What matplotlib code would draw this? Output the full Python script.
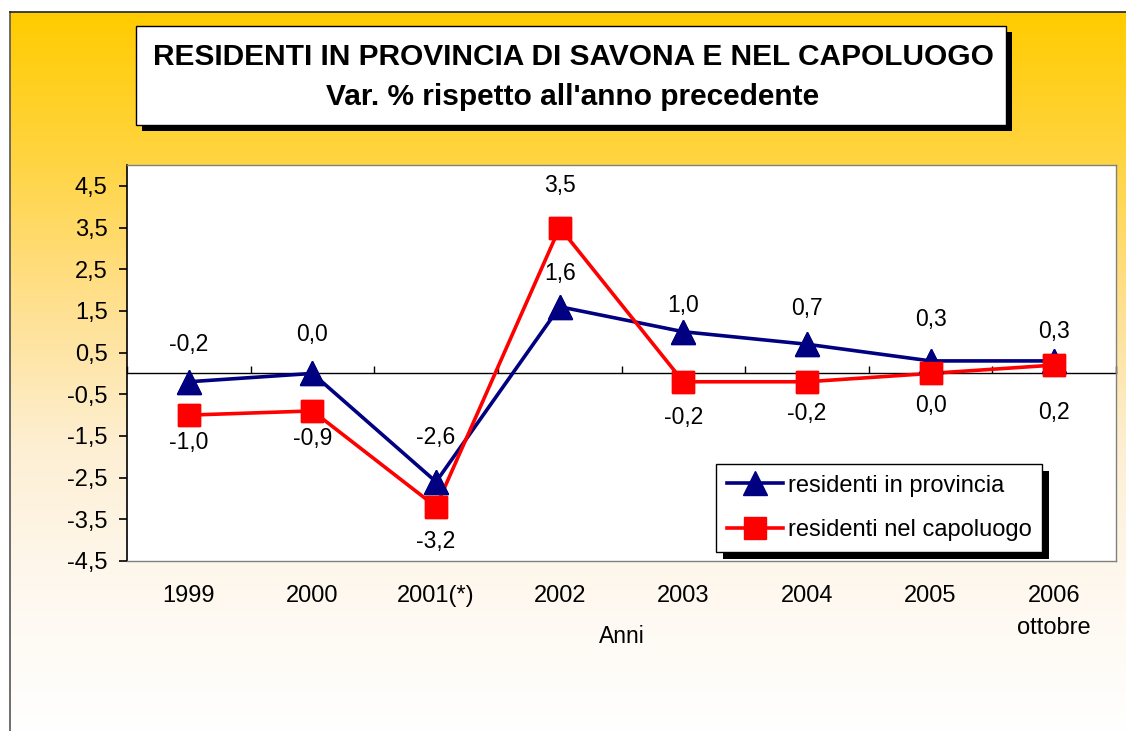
import numpy as np
import matplotlib
matplotlib.use("Agg")
import matplotlib.pyplot as plt
from matplotlib.patches import Rectangle
from matplotlib.colors import LinearSegmentedColormap

plt.rcParams["font.family"] = ["Liberation Sans", "DejaVu Sans"]

anni = ["1999", "2000", "2001(*)", "2002", "2003", "2004", "2005", "2006\nottobre"]
provincia = [-0.2, 0.0, -2.6, 1.6, 1.0, 0.7, 0.3, 0.3]
capoluogo = [-1.0, -0.9, -3.2, 3.5, -0.2, -0.2, 0.0, 0.2]
y_ticks = [-4.5, -3.5, -2.5, -1.5, -0.5, 0.5, 1.5, 2.5, 3.5, 4.5]

# label offsets (points) above/below each marker
off_prov = [27, 28, 32, 24, 19, 26, 30, 21]
off_cap = [-20, -20, -25, 30, -26, -23, -23, -34]

W, H = 1126, 731
fig = plt.figure(figsize=(W / 100, H / 100), dpi=100, facecolor="white")

# background gradient panel
bg = fig.add_axes([0, 0, 1, 1], zorder=0)
bg.set_xlim(0, W)
bg.set_ylim(H, 0)
bg.axis("off")
cmap = LinearSegmentedColormap.from_list(
    "giallo",
    [(0.0, "#ffcc00"), (0.2, "#ffd440"), (0.4, "#ffe08e"),
     (0.6, "#fdefd3"), (0.8, "#fef8ef"), (1.0, "#ffffff")])
grad = np.linspace(0, 1, 256).reshape(-1, 1)
bg.imshow(grad, cmap=cmap, aspect="auto", extent=(10, W + 5, H + 5, 12), zorder=0)
bg.plot([10, 10], [H + 5, 12], color="#555555", lw=1.2, zorder=1)
bg.plot([10, W + 5], [12, 12], color="#222222", lw=1.2, zorder=1)

# title box with shadow
bg.add_patch(Rectangle((142, 32), 870, 99, facecolor="black", zorder=2))
bg.add_patch(Rectangle((136, 26), 870, 99, facecolor="white",
                       edgecolor="black", lw=1.0, zorder=3))
bg.text(573, 57, "RESIDENTI IN PROVINCIA DI SAVONA E NEL CAPOLUOGO",
        ha="center", va="center", fontsize=21.5, fontweight="bold", zorder=4)
bg.text(573, 97, "Var. % rispetto all'anno precedente",
        ha="center", va="center", fontsize=21.5, fontweight="bold", zorder=4)

ax = fig.add_axes([127 / W, 1 - 561 / H, (1116 - 127) / W, (561 - 165) / H], zorder=1)
ax.set_facecolor("white")
x = np.arange(len(anni))

blu, rosso = "#000080", "#ff0000"
ax.plot(x, provincia, color=blu, lw=2.6, marker="^", markersize=17,
        label="residenti in provincia", zorder=2.1)
ax.plot(x, capoluogo, color=rosso, lw=2.6, marker="s", markersize=15.5,
        label="residenti nel capoluogo", zorder=2.2)
# markers on top of both lines, red series last
ax.plot(x, provincia, ls="none", color=blu, marker="^", markersize=17, zorder=3)
ax.plot(x, capoluogo, ls="none", color=rosso, marker="s", markersize=15.5, zorder=4)

for xi, v, dy in zip(x, provincia, off_prov):
    ax.annotate(f"{v:.1f}".replace(".", ","), (xi, v), xytext=(0, dy),
                textcoords="offset points", ha="center", va="center", fontsize=16.5)
for xi, v, dy in zip(x, capoluogo, off_cap):
    ax.annotate(f"{v:.1f}".replace(".", ","), (xi, v), xytext=(0, dy),
                textcoords="offset points", ha="center", va="center", fontsize=16.5)

ax.set_xlim(-0.5, len(anni) - 0.5)
ax.set_ylim(-4.5, 5.0)
ax.set_yticks(y_ticks)
ax.set_yticklabels([f"{t:.1f}".replace(".", ",") for t in y_ticks], fontsize=17)
ax.set_xticks(x)
ax.set_xticklabels(anni, fontsize=17, linespacing=1.6)
ax.tick_params(axis="x", length=0, pad=17)
ax.tick_params(axis="y", length=6, width=1.2, direction="out", color="black", pad=8)
ax.set_xlabel("Anni", fontsize=16.5, labelpad=-10)

for s in ["top", "right", "bottom"]:
    ax.spines[s].set_color("#808080")
    ax.spines[s].set_linewidth(1.0)
ax.spines["left"].set_color("black")
ax.spines["left"].set_linewidth(1.2)

# category axis crossing at zero
zx = ax.secondary_xaxis(0, transform=ax.transData)
zx.set_xticks(np.arange(len(anni) + 1) - 0.5)
zx.set_xticklabels([])
zx.tick_params(direction="in", length=5, width=1.0, color="black")
zx.spines["bottom"].set_color("black")
zx.spines["bottom"].set_linewidth(1.0)

leg = ax.legend(loc="upper left", fontsize=17, frameon=True, fancybox=False,
                edgecolor="black", framealpha=1, handlelength=2.4,
                borderpad=0.45, labelspacing=0.95, handletextpad=0.2,
                borderaxespad=0)
leg.set_bbox_to_anchor((716 / W, 1 - 464 / H), transform=fig.transFigure)
leg.get_frame().set_linewidth(1.0)
leg.set_zorder(6)

fig.canvas.draw()
bb = leg.get_window_extent()
shadow = Rectangle((bb.x0 + 7, bb.y0 - 7), bb.width, bb.height,
                   transform=None, facecolor="black", zorder=5)
ax.add_artist(shadow)

fig.savefig("out.png", dpi=100, facecolor="white")
